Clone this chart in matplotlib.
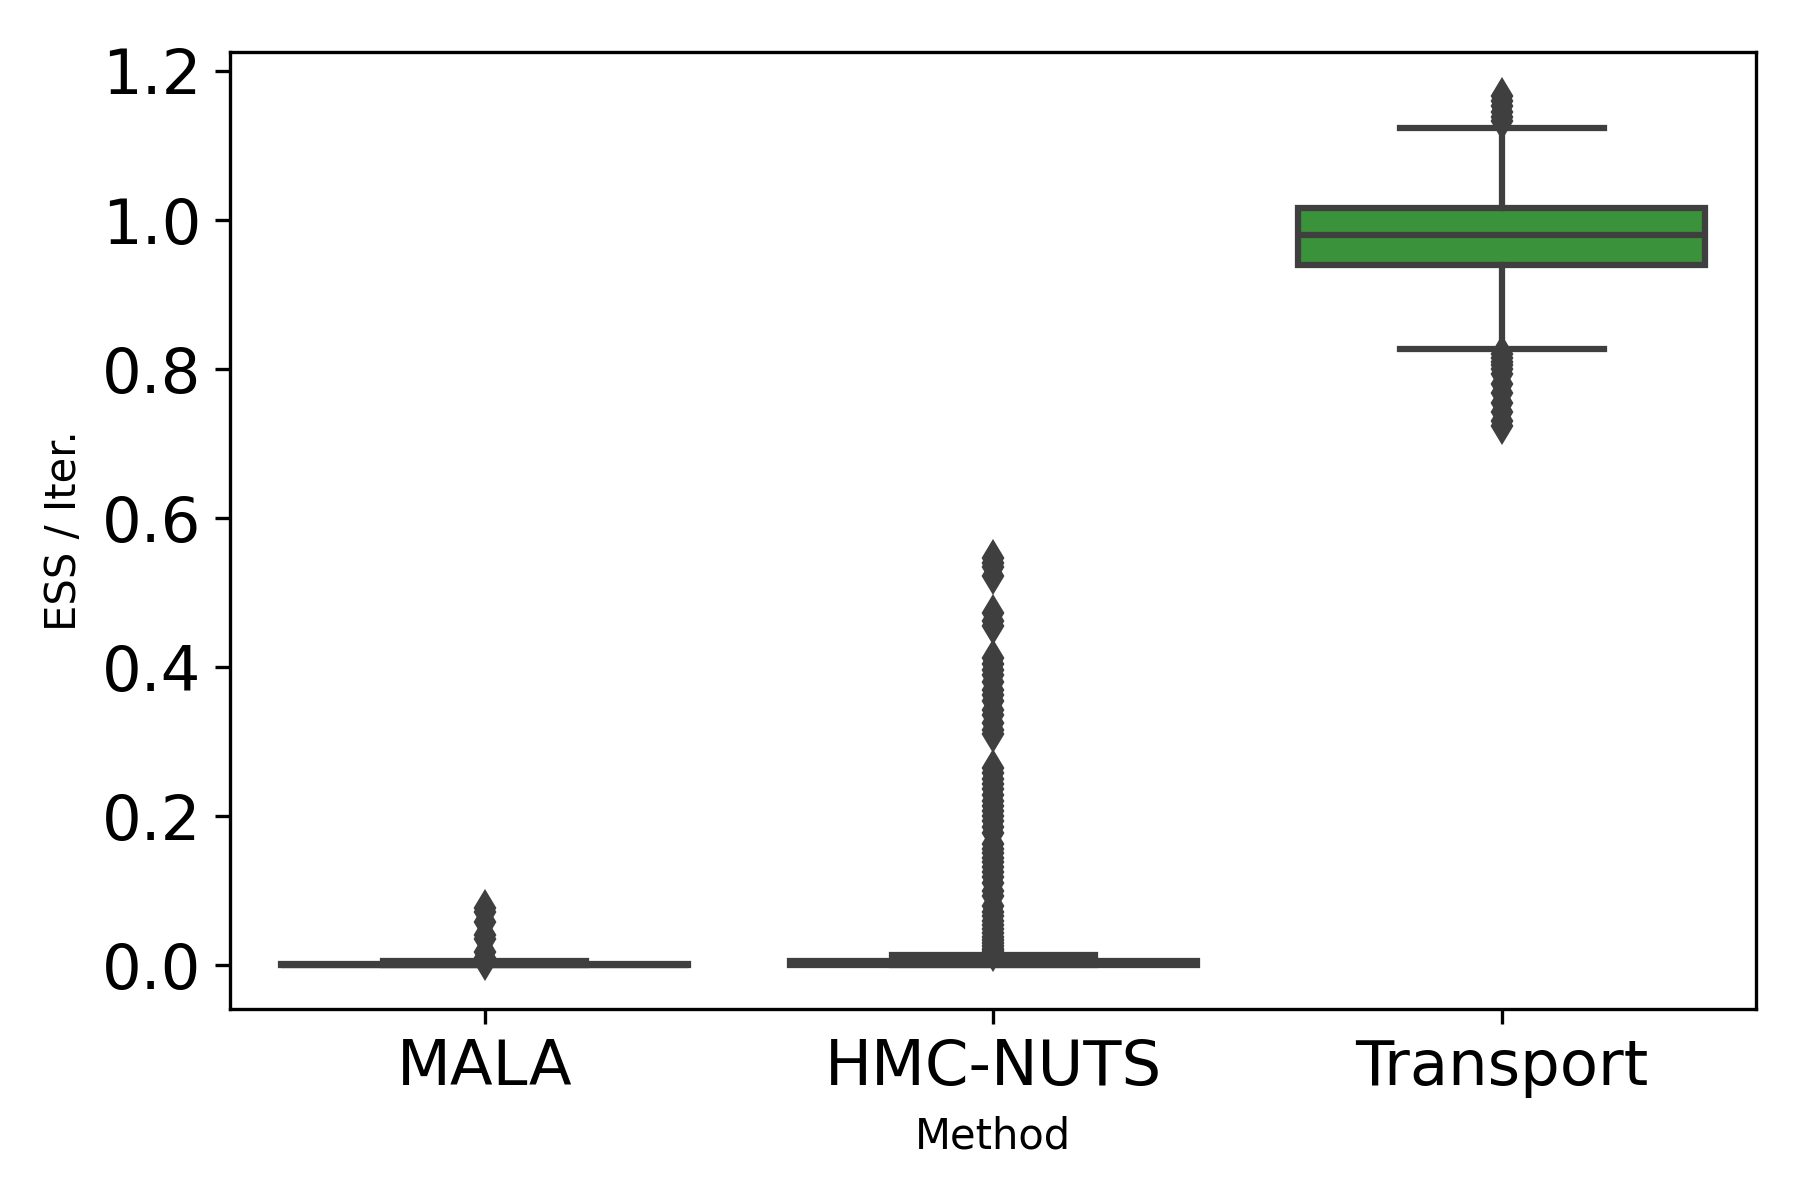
import numpy as np
import matplotlib.pyplot as plt

# Method categories and summary statistics
methods = ['MALA', 'HMC-NUTS', 'Transport']
colors = ['#3274a1', '#e1812c', '#3a923a']

q1 = [0.0, 0.0004, 0.940]
med = [0.0005, 0.002, 0.980]
q3 = [0.0013, 0.0058, 1.016]
whislo = [0.0, 0.0001, 0.827]
whishi = [0.0056, 0.0137, 1.124]

mala_fliers = [0.077, 0.072, 0.058, 0.040, 0.035, 0.018, 0.010, 0.004]
hmc_fliers = [0.546, 0.540, 0.534, 0.522, 0.473, 0.462, 0.455,
              0.412, 0.404, 0.396, 0.390, 0.380, 0.370, 0.362, 0.354,
              0.343, 0.336, 0.325, 0.316, 0.310,
              0.264, 0.258, 0.250, 0.243, 0.236, 0.228, 0.221, 0.214,
              0.207, 0.200, 0.193, 0.185, 0.178, 0.163, 0.156, 0.150,
              0.144, 0.138, 0.132, 0.125, 0.118, 0.111, 0.100, 0.093,
              0.080, 0.072, 0.066, 0.060, 0.054, 0.048, 0.043, 0.038,
              0.034, 0.030, 0.026, 0.022, 0.019, 0.016]
transport_fliers = [1.167, 1.160, 1.153, 1.145, 1.138, 1.133,
                    0.820, 0.815, 0.810, 0.805, 0.800, 0.794, 0.780,
                    0.768, 0.755, 0.742, 0.730, 0.723]
fliers = [mala_fliers, hmc_fliers, transport_fliers]

stats = []
for i in range(len(methods)):
    stats.append({'label': methods[i], 'q1': q1[i], 'med': med[i], 'q3': q3[i],
                  'whislo': whislo[i], 'whishi': whishi[i],
                  'fliers': np.array(fliers[i])})

gray = '#3f3f3f'
fig, ax = plt.subplots(figsize=(6, 4), dpi=300)
plt.subplots_adjust(left=0.128, right=0.9756, bottom=0.159, top=0.957)

bp = ax.bxp(stats, positions=[0, 1, 2], widths=0.8, patch_artist=True,
            boxprops=dict(edgecolor=gray, linewidth=1.5),
            whiskerprops=dict(color=gray, linewidth=1.5),
            capprops=dict(color=gray, linewidth=1.5),
            medianprops=dict(color=gray, linewidth=1.5),
            flierprops=dict(marker='d', markersize=5, markerfacecolor=gray,
                            markeredgecolor=gray, linestyle='none'))
for patch, c in zip(bp['boxes'], colors):
    patch.set_facecolor(c)

ax.set_xlim(-0.5, 2.5)
ax.set_ylim(-0.059, 1.226)
ax.set_yticks([0.0, 0.2, 0.4, 0.6, 0.8, 1.0, 1.2])
ax.tick_params(labelsize=15)
ax.set_xlabel('Method')
ax.set_ylabel('ESS / Iter.')

plt.savefig('out.png')
